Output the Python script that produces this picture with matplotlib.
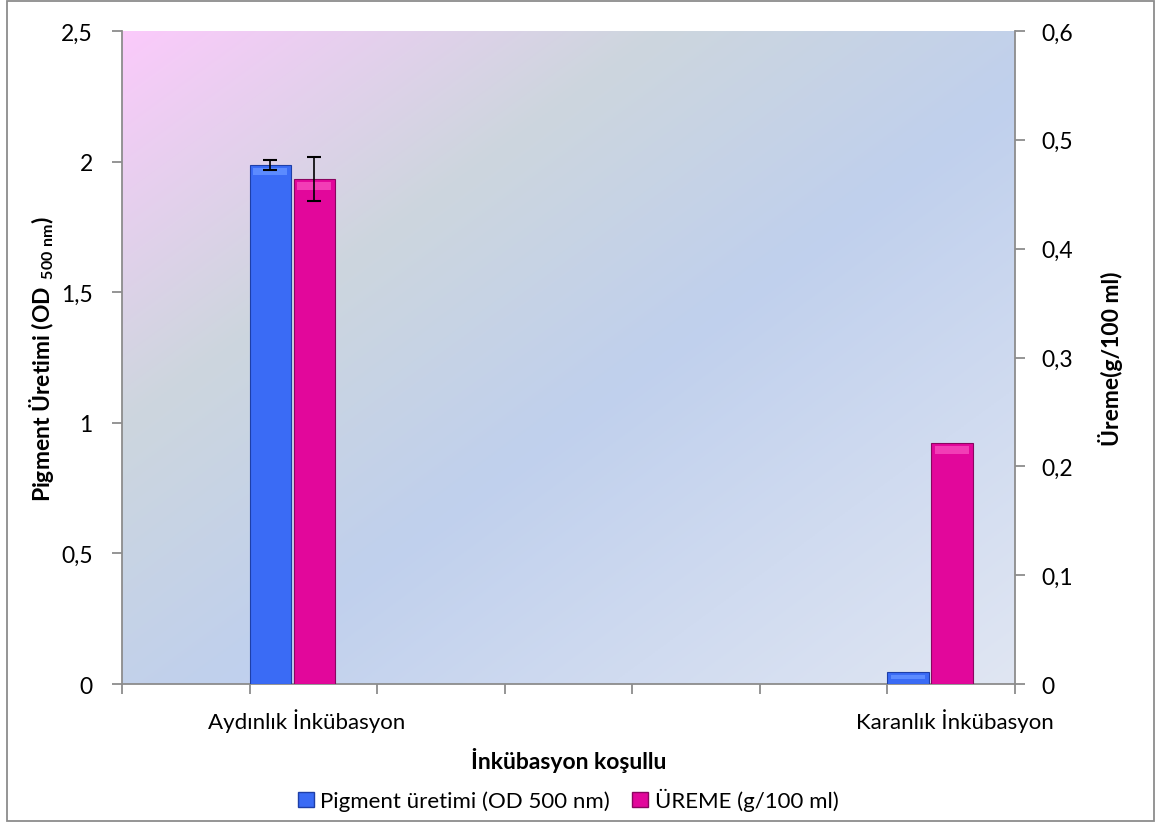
import numpy as np
import matplotlib
matplotlib.use("Agg")
import matplotlib.pyplot as plt
from matplotlib.ticker import FuncFormatter, FixedLocator
from matplotlib.patches import Rectangle, Patch

plt.rcParams['font.family'] = ['Lato', 'DejaVu Sans']
plt.rcParams['mathtext.fontset'] = 'custom'
plt.rcParams['mathtext.rm'] = 'Lato'
plt.rcParams['mathtext.bf'] = 'Lato:bold'

# Data
categories = ["Aydınlık İnkübasyon", "Karanlık İnkübasyon"]
category_slots = [1, 6]          # slot index on the 7-unit horizontal axis
pigment = [1.987, 0.045]         # OD 500 nm (left axis)
pigment_err = [0.02, 0.0]
ureme = [0.464, 0.221]           # g/100 ml (right axis)
ureme_err = [0.02, 0.0]
left_ticks = [0, 0.5, 1, 1.5, 2, 2.5]
right_ticks = [0, 0.1, 0.2, 0.3, 0.4, 0.5, 0.6]

blue = "#3A6BF5"
blue_edge = "#1E3FA8"
pink = "#E2079B"
pink_edge = "#8A0560"

fig = plt.figure(figsize=(11.61, 8.29), dpi=100)
ax = fig.add_axes([0.1051, 0.1737, 0.7691, 0.7877])
ax2 = ax.twinx()

# Diagonal gradient background
n = 300
xx, yy = np.meshgrid(np.linspace(0, 1, n), np.linspace(1, 0, n))
t = (xx + (1 - yy)) / 2.0
c0 = np.array([251, 202, 251]) / 255.0
c1 = np.array([205, 214, 222]) / 255.0
c2 = np.array([192, 208, 237]) / 255.0
c3 = np.array([224, 230, 243]) / 255.0
stops = [0.0, 0.3, 0.55, 1.0]
cols = [c0, c1, c2, c3]
img = np.zeros((n, n, 3))
for k in range(3):
    img[..., k] = np.interp(t, stops, [c[k] for c in cols])
ax.imshow(img, extent=[0, 1, 0, 1], transform=ax.transAxes, aspect='auto',
          zorder=0, origin='upper')

bw = 0.325
gap = 0.02
xb = np.array(category_slots, dtype=float)
ax.bar(xb, pigment, width=bw, align='edge', color=blue, edgecolor=blue_edge,
       linewidth=0.8, zorder=3)
ax2.bar(xb + bw + gap, ureme, width=bw, align='edge', color=pink,
        edgecolor=pink_edge, linewidth=0.8, zorder=3)

# bevel highlights
for x0, h in zip(xb, pigment):
    hh = min(0.012 * 2.5, h * 0.35)
    ax.bar(x0 + 0.03, hh, bottom=h - hh - 0.01, width=bw - 0.06, align='edge',
           color="#5C8BFF", linewidth=0, zorder=4)
for x0, h in zip(xb + bw + gap, ureme):
    hh = 0.012 * 0.6
    ax2.bar(x0 + 0.03, hh, bottom=h - hh - 0.0025, width=bw - 0.06, align='edge',
            color="#F23DB6", linewidth=0, zorder=4)

# error bars
for x0, h, e in zip(xb, pigment, pigment_err):
    if e > 0:
        ax.errorbar(x0 + bw / 2, h, yerr=e, fmt='none', ecolor='black',
                    elinewidth=1.2, capsize=5, capthick=1.5, zorder=6)
for x0, h, e in zip(xb + bw + gap, ureme, ureme_err):
    if e > 0:
        ax2.errorbar(x0 + bw / 2, h, yerr=e, fmt='none', ecolor='black',
                     elinewidth=1.2, capsize=5, capthick=1.5, zorder=6)

ax.set_xlim(0, 7)
ax.set_ylim(0, 2.5)
ax2.set_ylim(0, 0.6)
ax.set_zorder(ax2.get_zorder() - 1)
ax2.patch.set_visible(False)

comma = FuncFormatter(lambda v, p: ("%g" % v).replace('.', ','))
ax.yaxis.set_major_locator(FixedLocator(left_ticks))
ax.yaxis.set_major_formatter(comma)
ax2.yaxis.set_major_locator(FixedLocator(right_ticks))
ax2.yaxis.set_major_formatter(comma)

ax.set_xticks(range(0, 8))
ax.set_xticklabels([])
for cat, s in zip(categories, [1.45, 6.53]):
    ax.text(s, -0.056, cat, transform=ax.get_xaxis_transform(), ha='center',
            va='center', fontsize=16)

gray = "#8C8C8C"
for a in (ax, ax2):
    for sp in a.spines.values():
        sp.set_visible(False)
ax.spines['left'].set_visible(True)
ax.spines['bottom'].set_visible(True)
ax2.spines['right'].set_visible(True)
for sp in (ax.spines['left'], ax.spines['bottom'], ax2.spines['right']):
    sp.set_color(gray)
    sp.set_linewidth(1.3)
ax.tick_params(axis='both', colors=gray, labelcolor='black', labelsize=16.5,
               length=7, width=1.3, direction='out')
ax2.tick_params(axis='y', colors=gray, labelcolor='black', labelsize=16.5,
                length=7, width=1.3, direction='out', pad=12)
ax.tick_params(axis='y', pad=14)

ax.set_ylabel(r'Pigment Üretimi (OD$\ _{\mathbf{500\ nm}}$)', fontsize=16.5,
              fontweight='bold', labelpad=4)
ax2.set_ylabel('Üreme(g/100 ml)', fontsize=16.5, fontweight='bold', labelpad=18)
fig.text(0.4894, 0.083, 'İnkübasyon koşullu', ha='center', va='center',
         fontsize=16.5, fontweight='bold')

# Legend
handles = [Patch(facecolor=blue, edgecolor=blue_edge, label='Pigment üretimi (OD 500 nm)'),
           Patch(facecolor=pink, edgecolor=pink_edge, label='ÜREME (g/100 ml)')]
fig.legend(handles=handles, loc='center', bbox_to_anchor=(0.4894, 0.034), ncol=2,
           frameon=False, fontsize=16, handlelength=0.7, handleheight=0.7,
           handletextpad=0.3, columnspacing=1.0)

# Outer border
fig.add_artist(Rectangle((0.006, 0.008), 0.988, 0.989, transform=fig.transFigure,
                         fill=False, edgecolor=gray, linewidth=1.3))

fig.savefig("out.png", dpi=100)
